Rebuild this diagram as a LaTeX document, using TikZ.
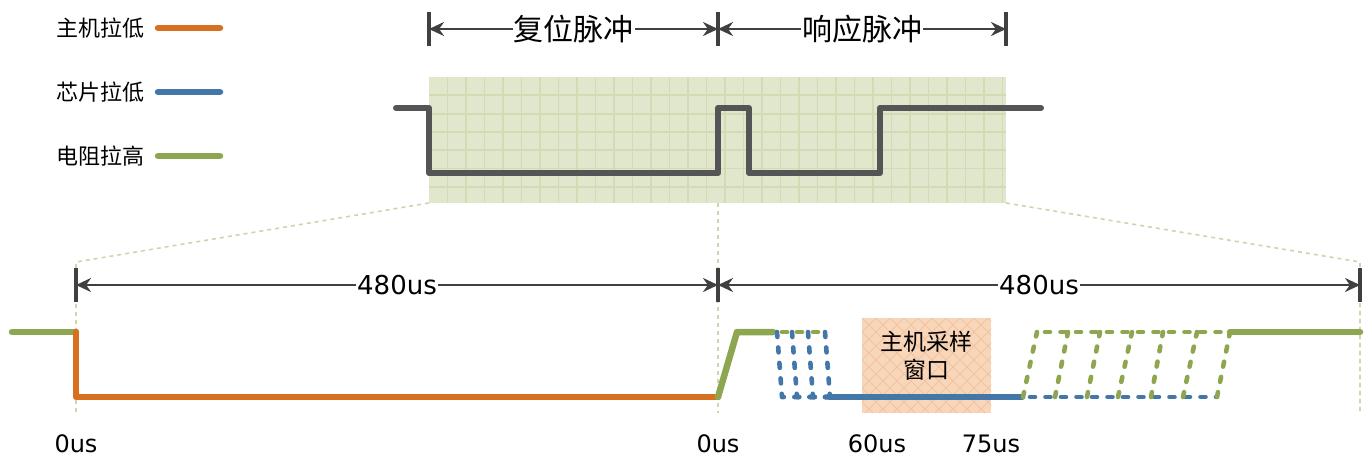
\documentclass[tikz,border=0pt]{standalone}
\usepackage{fontspec}
\setmainfont{DejaVu Sans}
\newfontfamily\cjk{Noto Sans CJK SC}
\usetikzlibrary{arrows.meta}
\definecolor{cOr}{HTML}{D7701F}
\definecolor{cBl}{HTML}{4377A8}
\definecolor{cGr}{HTML}{8FA651}
\definecolor{cDk}{HTML}{555555}
\definecolor{cAr}{HTML}{404040}
\definecolor{cGridBg}{HTML}{E1E7CD}
\definecolor{cGridLn}{HTML}{D2DCB4}
\definecolor{cDot}{HTML}{CBD6AD}
\definecolor{cWin}{HTML}{F8D6BA}
\definecolor{cWinLn}{HTML}{F1C39E}
\begin{document}
\begin{tikzpicture}[x=1pt,y=-1pt,
 sig/.style={line width=6.5pt, line cap=round, line join=round},
 dsig/.style={line width=4.6pt, line cap=round, line join=round, dash pattern=on 5pt off 10.5pt},
 dimline/.style={line width=2.8pt, draw=cAr, {Stealth[length=15pt,width=14pt]}-{Stealth[length=15pt,width=14pt]}},
 ticks/.style={line width=3.4pt, draw=cAr},
 guide/.style={draw=cDot, line width=1.6pt, dash pattern=on 4pt off 4pt},
 lbl/.style={font=\fontsize{24}{26}\selectfont, text=black, inner sep=1pt},
 cn/.style={font=\cjk\fontsize{22}{27}\selectfont, text=black, inner sep=1pt},
 cnwin/.style={font=\cjk\fontsize{23}{28}\selectfont, text=black, inner sep=1pt},
 cnbig/.style={font=\cjk\fontsize{30}{32}\selectfont, text=black, fill=white, inner sep=1pt},
 dimlbl/.style={lbl, fill=white, font=\fontsize{26}{28}\selectfont},
]
\useasboundingbox (0,0) rectangle (1370,459);

% ---------- legend ----------
\node[cn, anchor=east] (l1) at (146,28) {主机拉低};
\node[cn, anchor=east] (l2) at (146,92) {芯片拉低};
\node[cn, anchor=east] (l3) at (146,156) {电阻拉高};
\draw[sig, cOr] (158,28) -- (220,28);
\draw[sig, cBl] (158,92) -- (220,92);
\draw[sig, cGr] (158,156) -- (220,156);

% ---------- grid box ----------
\fill[cGridBg] (429,77) rectangle (1006,203);
\begin{scope}
\clip (429,77) rectangle (1006,203);
\foreach \i in {1,...,31} \draw[cGridLn, line width=1.8pt] (429+18.5*\i,77) -- (429+18.5*\i,203);
\foreach \j in {1,...,6} \draw[cGridLn, line width=1.8pt] (429,77+18.3*\j) -- (1006,77+18.3*\j);
\end{scope}

% ---------- guides ----------
\coordinate (gbl) at (429,203);
\coordinate (gbr) at (1006,203);
\coordinate (gbm) at (718,203);
\coordinate (zl) at (76,262);
\coordinate (zr) at (1360,262);
\coordinate (zlb) at (76,413);
\coordinate (zrb) at (1360,413);
\coordinate (zmb) at (718,413);
\draw[guide] (gbl) -- (zl) -- (zlb);
\draw[guide] (gbr) -- (zr) -- (zrb);
\draw[guide] (gbm) -- (zmb);

% ---------- top waveform ----------
\draw[sig, cDk, line width=6pt] (396,108) -- (429,108) -- (429,173) -- (718,173) -- (718,108)
  -- (749,108) -- (749,173) -- (880,173) -- (880,108) -- (1041,108);

% ---------- top dimension ----------
\coordinate (ta) at (429,29);
\coordinate (tb) at (718,29);
\coordinate (tc) at (1006,29);
\draw[ticks] (429,12) -- (429,46);
\draw[ticks] (718,12) -- (718,46);
\draw[ticks] (1006,12) -- (1006,46);
\draw[dimline] (ta) -- node[cnbig] (t1) {复位脉冲} (tb);
\draw[dimline] (tb) -- node[cnbig] (t2) {响应脉冲} (tc);

% ---------- bottom dimension ----------
\coordinate (ba) at (76,285);
\coordinate (bb) at (718,285);
\coordinate (bc) at (1360,285);
\draw[ticks] (76,268) -- (76,302);
\draw[ticks] (718,268) -- (718,302);
\draw[ticks] (1360,268) -- (1360,302);
\draw[dimline] (ba) -- node[dimlbl] (d1) {480us} (bb);
\draw[dimline] (bb) -- node[dimlbl] (d2) {480us} (bc);

% ---------- sampling window ----------
\fill[cWin] (862,318) rectangle (991,413);
\begin{scope}
\clip (862,318) rectangle (991,413);
\foreach \k in {-8,...,18} {
  \draw[cWinLn, line width=1pt] (862+14*\k,318) -- ++(95,95);
  \draw[cWinLn, line width=1pt] (862+14*\k,318) -- ++(-95,95);
}
\end{scope}
\node[cnwin, align=center] (win) at (926.5,356) {主机采样\\窗口};

% ---------- bottom waveforms ----------
\draw[sig, cGr] (12,332) -- (76,332);
\draw[sig, cOr] (76,332) -- (76,397) -- (718,397);
\draw[sig, cGr] (718,397) -- (737,332) -- (773,332);
\foreach \x in {777,792,808} \draw[dsig, cGr] (\x+5,332) -- (\x+12,332);
\foreach \x in {777,792,808,825} \draw[dsig, cBl] (\x,332) -- (\x+5,397) -- (830,397);
\draw[sig, cBl] (830,397) -- (1022,397);
\draw[dsig, cBl] (1030,397) -- (1217,397);
\foreach \b/\t in {1023/1037,1055/1068,1087/1100,1118/1132,1151/1163,1183/1197,1217/1230}
  \draw[dsig, cGr] (\b,397) -- (\t,332);
\draw[dsig, cGr] (1045,332) -- (1230,332);
\draw[sig, cGr] (1230,332) -- (1360,332);

% ---------- time labels ----------
\node[lbl] (t0a) at (76,444) {0us};
\node[lbl] (t0b) at (718,444) {0us};
\node[lbl] (t60) at (877,444) {60us};
\node[lbl] (t75) at (991,444) {75us};
\end{tikzpicture}
\end{document}
